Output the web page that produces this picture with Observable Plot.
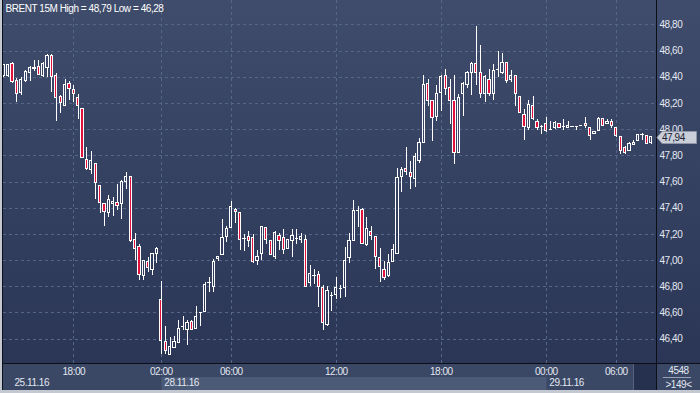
<!DOCTYPE html>
<html><head><meta charset="utf-8">
<script src="https://cdn.jsdelivr.net/npm/d3@7"></script>
<script src="https://cdn.jsdelivr.net/npm/@observablehq/plot@0.6"></script>
<style>
html,body{margin:0;padding:0;background:#c3c8d1;}
#chart{width:700px;height:393px;position:relative;overflow:hidden;}
#chart svg text{letter-spacing:-0.45px;}
</style></head><body><div id="chart"></div>
<script>
// 15-minute candles, index 0..148 (149 visible)
const opens = [48.41,48.41,48.50,48.37,48.28,48.37,48.43,48.46,48.48,48.41,
48.47,48.56,48.41,48.25,48.18,48.35,48.30,48.24,48.16,47.77,
47.69,47.74,47.57,47.43,47.36,47.43,47.44,47.43,47.60,47.64,
47.16,47.10,46.88,46.99,46.93,47.05,46.70,46.38,46.28,46.33,
46.37,46.50,46.47,46.53,46.48,46.60,46.61,46.83,46.80,47.01,
47.04,47.18,47.25,47.39,47.36,47.17,47.18,47.17,47.00,47.05,
47.25,47.15,47.03,47.19,47.17,47.09,47.15,47.17,47.16,47.16,
46.83,46.89,46.89,46.79,46.51,46.73,46.74,46.79,46.79,47.02,
47.15,47.38,47.39,47.12,47.22,47.18,47.02,46.93,46.88,46.99,
47.05,47.64,47.70,47.67,47.62,47.76,47.90,48.35,48.22,48.10,
48.28,48.41,48.32,48.22,47.82,48.27,48.34,48.43,48.50,48.43,
48.27,48.38,48.27,48.46,48.43,48.51,48.38,48.41,48.25,48.11,
48.01,48.18,48.06,48.02,48.04,48.00,48.01,48.04,48.02,48.01,
48.02,48.02,48.03,48.04,48.01,47.97,47.99,48.08,48.04,48.06,
48.01,47.94,47.86,47.84,47.88,47.91,47.96,47.95,47.90];
const highs = [48.50,48.50,48.51,48.39,48.40,48.45,48.48,48.53,48.53,48.51,
48.57,48.57,48.43,48.26,48.38,48.37,48.34,48.27,48.16,47.86,
47.83,47.74,47.57,47.43,47.50,47.48,47.58,47.61,47.67,47.64,
47.21,47.12,47.00,47.02,47.05,47.10,46.84,46.50,46.41,46.42,
46.54,46.57,46.54,46.54,46.65,46.60,46.83,46.87,47.01,47.03,
47.31,47.26,47.45,47.40,47.36,47.20,47.22,47.20,47.08,47.26,
47.25,47.15,47.22,47.21,47.24,47.16,47.24,47.24,47.21,47.19,
46.96,46.93,46.92,46.81,46.80,46.76,46.87,46.81,47.10,47.21,
47.46,47.41,47.40,47.33,47.26,47.18,47.09,46.99,47.05,47.12,
47.70,47.71,47.86,47.76,47.82,47.93,48.41,48.38,48.22,48.34,
48.41,48.46,48.38,48.41,48.27,48.36,48.44,48.51,48.79,48.64,
48.41,48.46,48.50,48.60,48.58,48.51,48.45,48.41,48.25,48.15,
48.22,48.25,48.08,48.03,48.09,48.06,48.06,48.05,48.08,48.06,
48.02,48.02,48.03,48.09,48.01,47.98,48.09,48.08,48.08,48.08,
48.01,47.95,47.87,47.90,47.92,47.96,47.97,47.95,47.95];
const lows = [48.40,48.40,48.35,48.21,48.26,48.36,48.37,48.44,48.41,48.40,
48.40,48.28,48.06,48.12,48.18,48.22,48.21,48.08,47.78,47.69,
47.66,47.47,47.36,47.26,47.33,47.34,47.38,47.31,47.54,47.14,
47.00,46.85,46.85,46.91,46.89,46.98,46.28,46.28,46.28,46.33,
46.37,46.47,46.35,46.47,46.48,46.50,46.61,46.76,46.76,46.99,
47.04,47.14,47.25,47.28,47.08,47.07,47.10,46.98,46.96,47.00,
47.12,47.04,47.01,47.08,47.05,47.09,47.02,47.12,47.13,46.80,
46.80,46.82,46.64,46.47,46.50,46.61,46.70,46.71,46.72,46.98,
47.15,47.25,47.13,47.11,47.15,46.93,46.83,46.85,46.87,46.99,
47.05,47.52,47.65,47.54,47.56,47.74,47.90,48.18,47.91,48.06,
48.14,48.26,48.04,47.73,47.82,48.10,48.31,48.26,48.34,48.24,
48.21,48.25,48.22,48.40,48.42,48.35,48.36,48.18,48.12,47.92,
47.99,48.07,47.99,47.96,47.98,47.99,48.00,48.01,47.99,48.01,
48.02,47.99,48.03,48.01,47.92,47.97,47.99,48.02,48.04,48.01,
47.94,47.81,47.81,47.83,47.88,47.91,47.92,47.89,47.89];
const closes = [48.49,48.49,48.36,48.27,48.38,48.44,48.47,48.47,48.42,48.50,
48.56,48.40,48.24,48.20,48.34,48.31,48.27,48.18,47.78,47.70,
47.76,47.59,47.44,47.37,47.46,47.45,47.42,47.60,47.64,47.15,
47.09,46.89,47.00,46.94,47.05,47.09,46.39,46.31,46.34,46.38,
46.48,46.50,46.52,46.47,46.57,46.60,46.81,46.83,46.99,47.03,
47.17,47.24,47.41,47.37,47.16,47.17,47.15,46.99,47.03,47.26,
47.16,47.04,47.21,47.15,47.08,47.16,47.19,47.17,47.18,46.80,
46.90,46.89,46.80,46.52,46.77,46.73,46.79,46.79,47.00,47.15,
47.38,47.38,47.13,47.24,47.19,47.03,46.95,46.87,46.98,47.08,
47.63,47.69,47.68,47.64,47.79,47.90,48.34,48.22,48.09,48.27,
48.40,48.31,48.22,47.82,48.24,48.35,48.43,48.50,48.43,48.27,
48.40,48.27,48.45,48.46,48.51,48.37,48.41,48.27,48.13,48.02,
48.19,48.08,48.01,48.02,47.99,48.00,48.05,48.01,48.02,48.03,
48.02,48.02,48.03,48.03,47.95,47.98,48.08,48.03,48.06,48.03,
47.95,47.84,47.82,47.89,47.90,47.96,47.96,47.89,47.94];

const timeTickIndex = [16,36,52,76,100,124,140];
const timeTickLabels = ["18:00","02:00","06:00","12:00","18:00","00:00","06:00"];
const dayStartIndex = [0,36,124];
const dayLabels = ["25.11.16","28.11.16","29.11.16"];
const priceTicks = [46.4,46.6,46.8,47.0,47.2,47.4,47.6,47.8,48.0,48.2,48.4,48.6,48.8];
const titleText = "BRENT 15M High = 48,79 Low = 46,28";
const totalBars = "4548";
const visibleBars = ">149<";

const candles = opens.map((o,i)=>({i,o,h:highs[i],l:lows[i],c:closes[i]}));
const fmt = v => v.toFixed(2).replace(".",",");

const W = 700, H = 393, mL = 3, mR = 44, mT = 0, mB = 30;
const txt = "#e3e8f1";

const background = (index, scales, values, dims) => {
  const g = d3.create("svg:g");
  const defs = g.append("defs");
  const lg = defs.append("linearGradient").attr("id","bgGrad")
    .attr("gradientUnits","userSpaceOnUse").attr("x1",0).attr("y1",0).attr("x2",0).attr("y2",dims.height - dims.marginBottom);
  lg.append("stop").attr("offset","0%").attr("stop-color","#3f4c6b");
  lg.append("stop").attr("offset","100%").attr("stop-color","#2b3656");
  const bottom = dims.height - dims.marginBottom;
  const right = dims.width - dims.marginRight;
  g.append("rect").attr("x",0).attr("y",0).attr("width",dims.width).attr("height",bottom).attr("fill","url(#bgGrad)");
  g.append("rect").attr("x",0).attr("y",bottom).attr("width",dims.width).attr("height",27).attr("fill","#3a4765");
  const b0 = Math.round(scales.x(dayStartIndex[1])) + 0.5, b1 = Math.round(scales.x(dayStartIndex[2])) + 0.5;
  g.append("rect").attr("x",b0).attr("y",bottom+14).attr("width",b1-b0).attr("height",13).attr("fill","#4b5a77");
  g.append("rect").attr("x",right-23).attr("y",bottom+1).attr("width",23).attr("height",26).attr("fill","#263150");
  g.append("line").attr("x1",right-22.5).attr("x2",right-22.5).attr("y1",bottom+1).attr("y2",bottom+27).attr("stroke","#56627e");
  g.append("rect").attr("x",0).attr("y",bottom+27).attr("width",dims.width).attr("height",3).attr("fill","#c3c8d1");
  g.append("rect").attr("x",0).attr("y",0).attr("width",2).attr("height",dims.height).attr("fill","#c3c8d1");
  return g.node();
};

const frameLines = (index, scales, values, dims) => {
  const g = d3.create("svg:g").attr("stroke","#0c0f18").attr("shape-rendering","crispEdges");
  const bottom = dims.height - dims.marginBottom;
  const right = dims.width - dims.marginRight;
  g.append("line").attr("x1",2.5).attr("x2",2.5).attr("y1",0).attr("y2",bottom+27);
  g.append("line").attr("x1",right+0.5).attr("x2",right+0.5).attr("y1",0).attr("y2",bottom+27);
  g.append("line").attr("x1",2).attr("x2",dims.width).attr("y1",bottom+0.5).attr("y2",bottom+0.5);
  g.append("line").attr("x1",right+7).attr("x2",right+35).attr("y1",bottom+14.5).attr("y2",bottom+14.5).attr("stroke","#9aa3b5");
  return g.node();
};

const priceTag = (index, scales, values, dims) => {
  const last = closes[closes.length-1];
  const y = Math.round(scales.y(last)) + 0.5;
  const x0 = dims.width - dims.marginRight;
  const g = d3.create("svg:g");
  g.append("path")
    .attr("d", `M${x0+1},${y} L${x0+6},${y-6} L${dims.width-3.5},${y-6} L${dims.width-3.5},${y+6} L${x0+6},${y+6} Z`)
    .attr("fill","#c9ced8").attr("stroke","#8e96a8");
  g.append("text").attr("x", x0+6).attr("y", y).attr("dy","0.36em")
    .attr("text-anchor","start")
    .attr("fill","#1b2132").attr("font-size",10).text(fmt(last));
  return g.node();
};

const chart = Plot.plot({
  width: W, height: H,
  marginLeft: mL, marginRight: mR, marginTop: mT, marginBottom: mB,
  style: {fontFamily: "'Liberation Sans', Arial, sans-serif", fontSize: "10px", background: "transparent", overflow: "visible"},
  x: {type: "linear", domain: [-0.07, 149.19], axis: null},
  y: {domain: [46.2145, 48.9855], axis: null},
  marks: [
    background,
    Plot.gridY(priceTicks, {stroke: "#56658a", strokeOpacity: 1, strokeDasharray: "3,3", shapeRendering: "crispEdges"}),
    Plot.gridX(timeTickIndex, {stroke: "#56658a", strokeOpacity: 1, strokeDasharray: "3,3", shapeRendering: "crispEdges"}),
    Plot.ruleX(candles, {x: "i", y1: "h", y2: d => Math.max(d.o, d.c), stroke: "#ffffff", strokeWidth: 1, clip: true, shapeRendering: "crispEdges"}),
    Plot.ruleX(candles, {x: "i", y1: d => Math.min(d.o, d.c), y2: "l", stroke: "#ffffff", strokeWidth: 1, clip: true, shapeRendering: "crispEdges"}),
    Plot.rect(candles.filter(d => d.o !== d.c), {
      x1: d => d.i - 0.26, x2: d => d.i + 0.26, y1: "o", y2: "c",
      fill: d => d.c < d.o ? "#e0123c" : "none", stroke: "#ffffff", strokeWidth: 1,
      clip: true, shapeRendering: "crispEdges"
    }),
    Plot.ruleY(candles.filter(d => d.o === d.c), {
      y: "o", x1: d => d.i - 0.36, x2: d => d.i + 0.36, stroke: "#ffffff", strokeWidth: 1,
      clip: true, shapeRendering: "crispEdges"
    }),
    frameLines,
    Plot.text(priceTicks, {y: d => d, text: d => fmt(d), frameAnchor: "right", textAnchor: "start", lineAnchor: "middle", dx: 3, fill: txt, fontSize: 10}),
    Plot.text(timeTickIndex, {x: d => d, text: (d, i) => timeTickLabels[i], frameAnchor: "bottom", lineAnchor: "middle", dy: 8.5, fill: txt, fontSize: 10}),
    Plot.text(dayStartIndex, {x: d => Math.max(d, 1.75), text: (d, i) => dayLabels[i], frameAnchor: "bottom", textAnchor: "start", lineAnchor: "middle", dx: 3, dy: 19.5, fill: txt, fontSize: 10}),
    Plot.text([totalBars], {text: d => d, frameAnchor: "bottom-right", textAnchor: "middle", lineAnchor: "middle", dx: 22, dy: 7.5, fill: txt, fontSize: 10}),
    Plot.text([visibleBars], {text: d => d, frameAnchor: "bottom-right", textAnchor: "middle", lineAnchor: "middle", dx: 22, dy: 21, fill: txt, fontSize: 10}),
    Plot.text([titleText], {text: d => d, frameAnchor: "top-left", textAnchor: "start", lineAnchor: "middle", dx: 2, dy: 8, fill: "#ffffff", fontSize: 10}),
    priceTag
  ]
});
document.getElementById("chart").appendChild(chart);
</script>
</body></html>
